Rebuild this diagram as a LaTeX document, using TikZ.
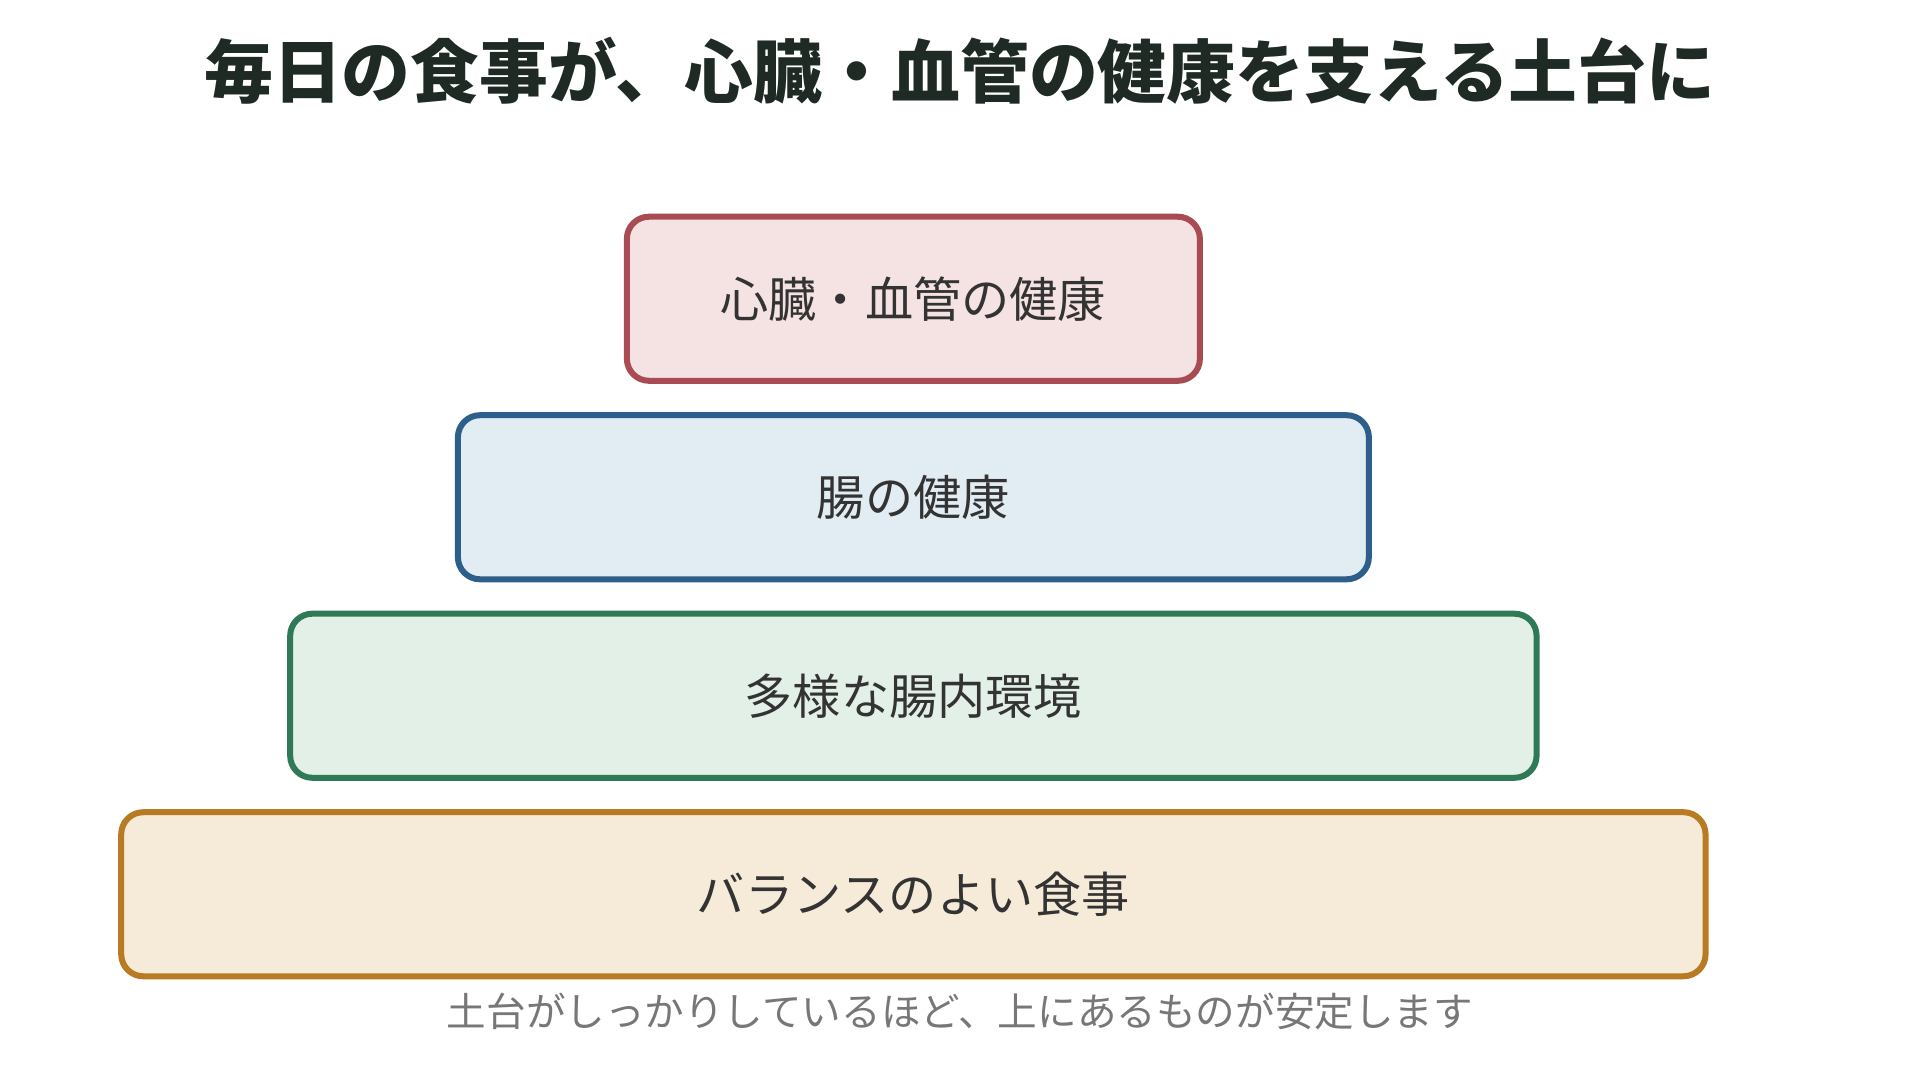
\documentclass[tikz,border=0pt]{standalone}
\usepackage{fontspec}
\setmainfont{Noto Sans CJK JP}
\usetikzlibrary{positioning}
\definecolor{inkdark}{HTML}{1F2A24}
\definecolor{inktext}{HTML}{333333}
\definecolor{inkgray}{HTML}{777777}
\definecolor{heartline}{HTML}{A84B52}
\definecolor{heartfill}{HTML}{F5E3E3}
\definecolor{gutline}{HTML}{2E5F8A}
\definecolor{gutfill}{HTML}{E2ECF3}
\definecolor{floraline}{HTML}{2E7A57}
\definecolor{florafill}{HTML}{E3F0E8}
\definecolor{mealline}{HTML}{B87A22}
\definecolor{mealfill}{HTML}{F6EAD8}
\tikzstyle{layer}=[rectangle,rounded corners=0.45cm,line width=3.5pt,minimum height=3.35cm,
  text=inktext,font=\fontsize{28}{34}\selectfont]

\begin{document}
\begin{tikzpicture}[
    node distance=0.58cm
    ]

    \useasboundingbox (0,0) rectangle (39,-22.24);

    % title
    \node[text=inkdark,font=\fontsize{40}{48}\selectfont\bfseries] (title) at (19.6,-1.45)
      {毎日の食事が、心臓・血管の健康を支える土台に};

    % pyramid layers
    \node[layer,draw=heartline,fill=heartfill,minimum width=11.7cm] (heart) at (18.65,-6.1)
      {心臓・血管の健康};
    \node[layer,draw=gutline,fill=gutfill,minimum width=18.6cm,below=of heart] (gut)
      {腸の健康};
    \node[layer,draw=floraline,fill=florafill,minimum width=25.45cm,below=of gut] (flora)
      {多様な腸内環境};
    \node[layer,draw=mealline,fill=mealfill,minimum width=32.35cm,below=of flora] (meal)
      {バランスのよい食事};

    % caption
    \node[text=inkgray,font=\fontsize{23}{28}\selectfont] (note) at (19.6,-20.65)
      {土台がしっかりしているほど、上にあるものが安定します};

\end{tikzpicture}
\end{document}
